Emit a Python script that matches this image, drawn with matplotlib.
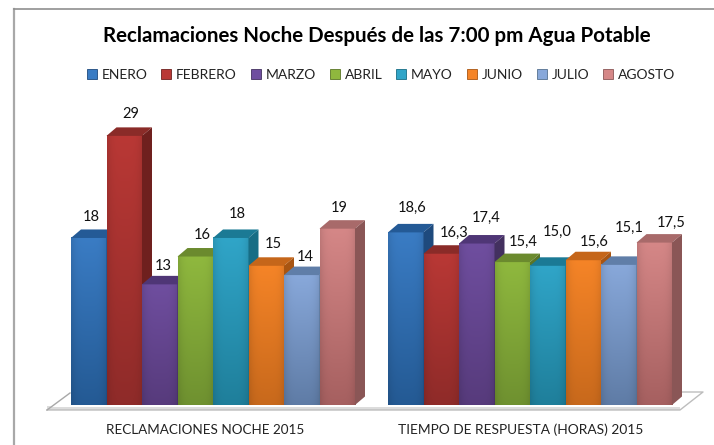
import numpy as np
import matplotlib
matplotlib.use('Agg')
import matplotlib.pyplot as plt
from matplotlib.colors import to_rgb
from matplotlib.patches import Patch, Polygon

plt.rcParams['font.family'] = ['Lato', 'DejaVu Sans']

titulo = 'Reclamaciones Noche Después de las 7:00 pm Agua Potable'
meses = ['ENERO', 'FEBRERO', 'MARZO', 'ABRIL', 'MAYO', 'JUNIO', 'JULIO', 'AGOSTO']
grupos = ['RECLAMACIONES NOCHE 2015', 'TIEMPO DE RESPUESTA (HORAS) 2015']

reclamaciones = [18, 29, 13, 16, 18, 15, 14, 19]
tiempo = [18.6, 16.3, 17.4, 15.4, 15.0, 15.6, 15.1, 17.5]
etiquetas_tiempo = ['18,6', '16,3', '17,4', '15,4', '15,0', '15,6', '15,1', '17,5']

# colores: arriba del frente, abajo del frente, cara superior, cara lateral
frente_a = ['#3a7cc4', '#b93835', '#6f4e9f', '#8fb83e', '#30a5c8', '#f58427', '#88a8da', '#d58787']
frente_b = ['#245a94', '#8f2b29', '#573b7c', '#6f9130', '#1f7f9b', '#c8691c', '#5f7ca6', '#a66060']
cara_sup = ['#245a96', '#8a2b28', '#4f3676', '#6b8a2e', '#1b7a95', '#c5661a', '#607ea8', '#a86a6a']
cara_lat = ['#1e4a7d', '#6f201e', '#43305f', '#5a7526', '#176d85', '#a85512', '#55708f', '#8a5656']

# desplazamiento de cada etiqueta respecto al centro y tope de la barra, en px
dx_1 = [2, 7, 4, 7, 7, 7, 4, 2]
dy_1 = [21, 22, 18, 22, 24, 22, 18, 21]
dx_2 = [6, 13, 9, 11, 9, 11, 10, 17]
dy_2 = [25, 21, 26, 20, 34, 18, 37, 20]

W, H = 714, 445
BASE = 405          # linea base en px
PX_X = 35.5         # px por barra
PX_Y = 9.28         # px por unidad
X0 = 71             # borde izquierdo del primer grupo
PASO = 317 / PX_X   # distancia entre grupos
PROF_X = 10 / PX_X
PROF_Y = 8.5 / PX_Y


def xd(px):
    return (px - X0) / PX_X


def yd(px):
    return (BASE - px) / PX_Y


fig = plt.figure(figsize=(W / 100, H / 100), dpi=100)
ax = fig.add_axes([0, 0, 1, 1])
ax.axis('off')

# marco
ax.plot([xd(14), xd(14)], [yd(9), yd(H)], color='#a8a8a8', lw=1.6)
ax.plot([xd(14), xd(W)], [yd(9), yd(9)], color='#8f8f8f', lw=1.2)

# piso
ax.add_patch(Polygon([(xd(47), yd(410)), (xd(680), yd(410)), (xd(680), yd(406)), (xd(47), yd(406))],
                     fc='#dcdcdc', ec='none', zorder=1))
ax.add_patch(Polygon([(xd(50), yd(407)), (xd(70), yd(393)), (xd(703), yd(392)), (xd(680), yd(407))],
                     fc='white', ec='none', zorder=1))
ax.plot([xd(47), xd(680), xd(703), xd(660)], [yd(410), yd(410), yd(392), yd(392)], color='#bdbdbd', lw=1.0, zorder=1)
ax.plot([xd(47), xd(70)], [yd(410), yd(393)], color='#a8a8a8', lw=1.0, zorder=1)


def barra(x, v, i, z):
    # frente con degradado
    t = np.linspace(0, 1, 64)[:, None]
    u = np.linspace(0, 1, 32)[None, :]
    brillo = 1 - 0.10 * np.abs(2 * u - 1) ** 4
    a, b = np.array(to_rgb(frente_a[i])), np.array(to_rgb(frente_b[i]))
    img = np.stack([(a[c] + (b[c] - a[c]) * t) * brillo for c in range(3)], axis=2)
    ax.imshow(img, extent=(x, x + 1, 0, v), origin='upper', aspect='auto', zorder=z, interpolation='bilinear')
    ax.add_patch(Polygon([(x, v), (x + PROF_X, v + PROF_Y), (x + 1 + PROF_X, v + PROF_Y), (x + 1, v)],
                         fc=cara_sup[i], ec='none', zorder=z))
    ax.add_patch(Polygon([(x + 1, 0), (x + 1 + PROF_X, PROF_Y), (x + 1 + PROF_X, v + PROF_Y), (x + 1, v)],
                         fc=cara_lat[i], ec='none', zorder=z))


z = 2
for i, v in enumerate(reclamaciones):
    barra(i, v, i, z)
    z += 1
    ax.annotate(str(v), (i + 0.5, v), xytext=(dx_1[i] * 0.72, dy_1[i] * 0.72), textcoords='offset points',
                ha='center', va='center', fontsize=10.5, color='#111111', zorder=30)
for i, v in enumerate(tiempo):
    barra(PASO + i, v, i, z)
    z += 1
    ax.annotate(etiquetas_tiempo[i], (PASO + i + 0.5, v), xytext=(dx_2[i] * 0.72, dy_2[i] * 0.72),
                textcoords='offset points', ha='center', va='center', fontsize=10.5, color='#111111', zorder=30)

ax.set_xlim(xd(0), xd(W))
ax.set_ylim(yd(H), yd(0))

ax.text(xd(376.5), yd(36), titulo, ha='center', va='center', fontsize=14.8, fontweight='bold', color='black')
ax.text(xd(205), yd(430), grupos[0], ha='center', va='center', fontsize=9.7, color='#222222')
ax.text(xd(521), yd(430), grupos[1], ha='center', va='center', fontsize=9.9, color='#222222')

handles = [Patch(fc=frente_a[i], ec=cara_lat[i], lw=0.6, label=m) for i, m in enumerate(meses)]
fig.legend(handles=handles, loc='center', bbox_to_anchor=(381 / W, 1 - 75 / H), ncols=8, frameon=False,
           fontsize=10, handlelength=0.72, handleheight=0.72, handletextpad=0.35, columnspacing=1.0,
           labelcolor='#222222', borderpad=0)

fig.savefig('out.png', dpi=100)
